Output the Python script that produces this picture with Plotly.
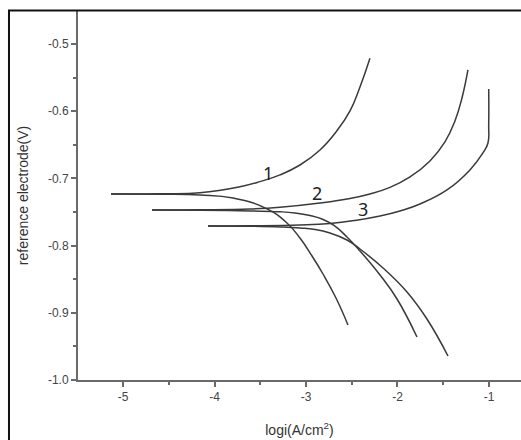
import plotly.graph_objects as go

# ---- data (log i, E) ----
c1_anodic_x = [-5.131, -4.596, -4.158, -3.721, -3.503, -3.284, -3.066, -2.847, -2.664, -2.519, -2.410, -2.301]
c1_anodic_y = [-0.7232, -0.7229, -0.7214, -0.7124, -0.7049, -0.6949, -0.6801, -0.6577, -0.6295, -0.5997, -0.5640, -0.5213]
c1_cath_x = [-5.131, -4.596, -4.158, -3.798, -3.426, -3.208, -3.066, -2.934, -2.814, -2.672, -2.541]
c1_cath_y = [-0.7232, -0.7235, -0.7247, -0.7292, -0.7455, -0.7664, -0.7887, -0.8155, -0.8423, -0.8780, -0.9182]

c2_anodic_x = [-4.683, -4.158, -3.612, -3.284, -2.847, -2.519, -2.301, -2.082, -1.863, -1.645, -1.481, -1.372, -1.295, -1.230]
c2_anodic_y = [-0.7470, -0.7467, -0.7455, -0.7429, -0.7366, -0.7299, -0.7232, -0.7135, -0.6979, -0.6741, -0.6458, -0.6146, -0.5804, -0.5387]
c2_cath_x = [-4.683, -4.158, -3.612, -3.284, -3.120, -2.956, -2.825, -2.694, -2.552, -2.410, -2.191, -2.005, -1.787]
c2_cath_y = [-0.7470, -0.7473, -0.7485, -0.7497, -0.7515, -0.7552, -0.7604, -0.7701, -0.7872, -0.8080, -0.8438, -0.8795, -0.9360]

c3_anodic_x = [-4.071, -3.612, -3.066, -2.738, -2.464, -2.191, -1.973, -1.754, -1.459, -1.208, -1.066, -1.011, -1.003, -1.003]
c3_anodic_y = [-0.7708, -0.7705, -0.7693, -0.7671, -0.7626, -0.7560, -0.7485, -0.7381, -0.7173, -0.6875, -0.6622, -0.6473, -0.6205, -0.5670]
c3_cath_x = [-4.071, -3.612, -3.284, -3.066, -2.902, -2.738, -2.552, -2.410, -2.158, -1.896, -1.678, -1.448]
c3_cath_y = [-0.7708, -0.7713, -0.7723, -0.7738, -0.7760, -0.7812, -0.7917, -0.8051, -0.8333, -0.8690, -0.9092, -0.9643]

curve_labels = ["1", "2", "3"]
label_x = [-3.415, -2.88, -2.377]
label_y = [-0.692, -0.722, -0.746]

x_tickvals = [-5, -4, -3, -2, -1]
x_ticktext = ["-5", "-4", "-3", "-2", "-1"]
y_tickvals = [-1.0, -0.9, -0.8, -0.7, -0.6, -0.5]
y_ticktext = ["-1.0", "-0.9", "-0.8", "-0.7", "-0.6", "-0.5"]

x_title = "logi(A/cm<sup>2</sup>)"
y_title = "reference electrode(V)"

line_color = "#3a3a3a"
axis_color = "#6a6a6a"

fig = go.Figure()
branches = [
    (c1_anodic_x, c1_anodic_y), (c1_cath_x, c1_cath_y),
    (c2_anodic_x, c2_anodic_y), (c2_cath_x, c2_cath_y),
    (c3_anodic_x, c3_anodic_y), (c3_cath_x, c3_cath_y),
]
for bx, by in branches:
    fig.add_trace(go.Scatter(
        x=bx, y=by, mode="lines",
        line=dict(color=line_color, width=1.5, shape="spline", smoothing=1.3),
        showlegend=False, hoverinfo="skip"))

for t, lx, ly in zip(curve_labels, label_x, label_y):
    fig.add_annotation(x=lx, y=ly, text=t, showarrow=False,
                       font=dict(family="Noto Sans", size=18, color="#222"))

fig.update_layout(
    width=521, height=440,
    margin=dict(l=78, r=0, t=11, b=60),
    paper_bgcolor="white", plot_bgcolor="white",
    font=dict(family="Liberation Sans", color="#444"),
    xaxis=dict(
        range=[-5.492, -0.65], tickmode="array",
        tickvals=x_tickvals, ticktext=x_ticktext,
        showgrid=False, zeroline=False,
        showline=True, linecolor=axis_color, linewidth=2,
        ticks="outside", ticklen=5, tickwidth=1.5, tickcolor=axis_color,
        tickfont=dict(size=12, color="#444"),
        minor=dict(dtick=0.5, tick0=0, ticks="outside", ticklen=3,
                   tickwidth=1.5, tickcolor=axis_color, showgrid=False),
        title=dict(text=x_title, font=dict(size=14, color="#333"), standoff=22),
        automargin=False,
    ),
    yaxis=dict(
        range=[-1.0, -0.451], tickmode="array",
        tickvals=y_tickvals, ticktext=y_ticktext,
        showgrid=False, zeroline=False,
        showline=True, linecolor=axis_color, linewidth=2,
        ticks="outside", ticklen=5, tickwidth=1.5, tickcolor=axis_color,
        tickfont=dict(size=12, color="#444"),
        minor=dict(dtick=0.05, tick0=0, ticks="outside", ticklen=3,
                   tickwidth=1.5, tickcolor=axis_color, showgrid=False),
        title=dict(text=y_title, font=dict(size=14, color="#333"), standoff=16),
        automargin=False,
    ),
)

# outer frame (left and top edges visible in the reference)
fig.add_shape(type="rect", xref="paper", yref="paper",
              x0=-0.1558, x1=1.05, y0=-0.25, y1=1.0015,
              line=dict(color="#111", width=2), fillcolor="rgba(0,0,0,0)")

fig.write_html("out.html")
